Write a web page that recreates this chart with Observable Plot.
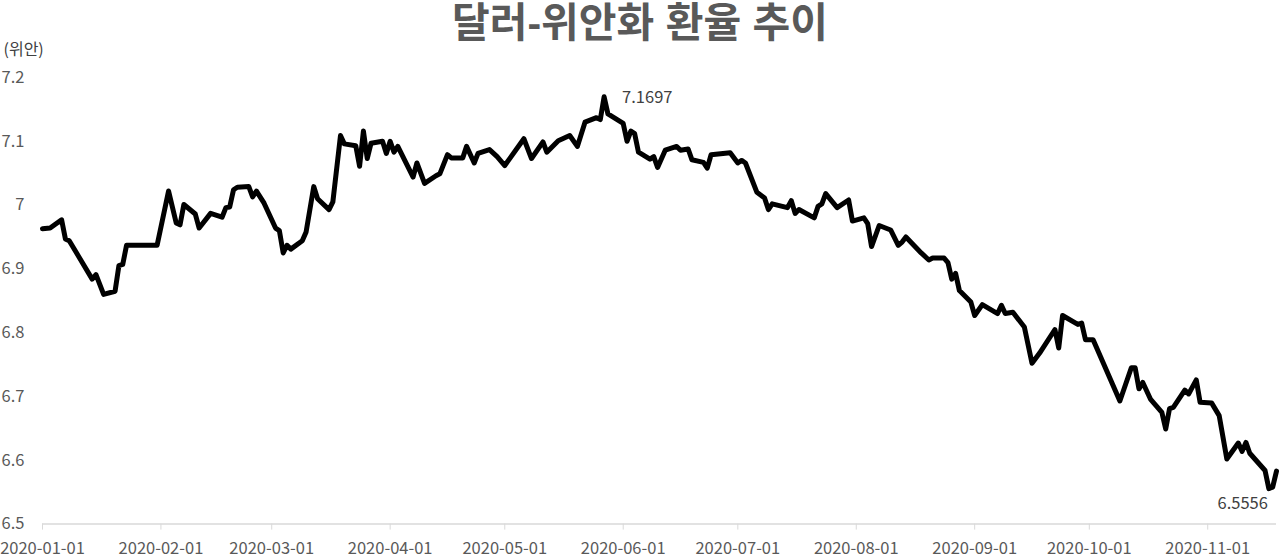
<!DOCTYPE html>
<html><head><meta charset="utf-8">
<script src="https://cdn.jsdelivr.net/npm/d3@7"></script>
<script src="https://cdn.jsdelivr.net/npm/@observablehq/plot@0.6"></script>
<style>
html,body{margin:0;padding:0;background:#fff;}
#title{position:relative;z-index:1;height:30px;line-height:47px;overflow:visible;text-align:center;font-family:"Liberation Sans","Noto Sans CJK KR",sans-serif;font-size:41px;font-weight:700;color:#595959;white-space:nowrap;}
#chart{position:relative;}
</style></head>
<body>
<div id="title">달러-위안화 환율 추이</div>
<div id="chart"></div>
<script>
const dates = ["2020-01-01","2020-01-03","2020-01-06","2020-01-07","2020-01-08","2020-01-10","2020-01-14","2020-01-15","2020-01-17","2020-01-20","2020-01-21","2020-01-22","2020-01-23","2020-01-31",
"2020-02-03","2020-02-05","2020-02-06","2020-02-07","2020-02-10","2020-02-11","2020-02-14","2020-02-17","2020-02-18","2020-02-19","2020-02-20","2020-02-21","2020-02-24","2020-02-25","2020-02-26","2020-02-28",
"2020-03-02","2020-03-03","2020-03-04","2020-03-05","2020-03-06","2020-03-09","2020-03-10","2020-03-12","2020-03-13","2020-03-16","2020-03-17","2020-03-19","2020-03-20","2020-03-23","2020-03-24","2020-03-25","2020-03-26","2020-03-27","2020-03-30","2020-03-31",
"2020-04-01","2020-04-02","2020-04-03","2020-04-07","2020-04-08","2020-04-10","2020-04-13","2020-04-14","2020-04-16","2020-04-17","2020-04-20","2020-04-21","2020-04-23","2020-04-24","2020-04-27","2020-04-29",
"2020-05-01","2020-05-06","2020-05-08","2020-05-11","2020-05-12","2020-05-15","2020-05-18","2020-05-20","2020-05-22","2020-05-25","2020-05-26","2020-05-27","2020-05-28",
"2020-06-01","2020-06-02","2020-06-03","2020-06-04","2020-06-05","2020-06-08","2020-06-09","2020-06-10","2020-06-12","2020-06-15","2020-06-16","2020-06-18","2020-06-19","2020-06-22","2020-06-23","2020-06-24","2020-06-29",
"2020-07-01","2020-07-02","2020-07-03","2020-07-06","2020-07-08","2020-07-09","2020-07-10","2020-07-14","2020-07-15","2020-07-16","2020-07-17","2020-07-21","2020-07-22","2020-07-23","2020-07-24","2020-07-27","2020-07-30","2020-07-31",
"2020-08-03","2020-08-04","2020-08-05","2020-08-07","2020-08-10","2020-08-12","2020-08-13","2020-08-14","2020-08-18","2020-08-20","2020-08-21","2020-08-24","2020-08-25","2020-08-26","2020-08-27","2020-08-28","2020-08-31",
"2020-09-01","2020-09-03","2020-09-07","2020-09-08","2020-09-09","2020-09-11","2020-09-14","2020-09-16","2020-09-18","2020-09-22","2020-09-23","2020-09-24","2020-09-28","2020-09-29","2020-09-30",
"2020-10-02","2020-10-09","2020-10-12","2020-10-13","2020-10-14","2020-10-15","2020-10-17","2020-10-20","2020-10-21","2020-10-22","2020-10-23","2020-10-26","2020-10-27","2020-10-29","2020-10-30",
"2020-11-02","2020-11-04","2020-11-06","2020-11-09","2020-11-10","2020-11-11","2020-11-12","2020-11-16","2020-11-17","2020-11-18","2020-11-19"];
const rates = [6.963,6.964,6.977,6.947,6.944,6.924,6.884,6.891,6.860,6.865,6.905,6.907,6.937,6.937,
7.022,6.972,6.969,7.001,6.986,6.964,6.987,6.981,6.996,6.997,7.024,7.028,7.029,7.013,7.022,7.003,
6.964,6.960,6.925,6.937,6.931,6.944,6.958,7.029,7.010,6.993,7.005,7.109,7.096,7.093,7.061,7.116,7.073,7.097,7.100,7.081,
7.100,7.083,7.092,7.044,7.066,7.034,7.046,7.049,7.079,7.074,7.074,7.092,7.066,7.081,7.087,7.076,
7.062,7.104,7.073,7.099,7.083,7.101,7.109,7.092,7.130,7.137,7.134,7.1697,7.143,
7.128,7.100,7.116,7.112,7.083,7.072,7.076,7.059,7.086,7.092,7.086,7.088,7.071,7.067,7.058,7.079,7.082,
7.066,7.070,7.066,7.020,7.011,6.993,7.002,6.996,7.007,6.987,6.993,6.980,6.998,7.002,7.018,6.996,7.008,6.975,
6.980,6.971,6.935,6.968,6.961,6.937,6.942,6.950,6.925,6.914,6.917,6.917,6.910,6.884,6.893,6.866,6.848,
6.827,6.844,6.830,6.843,6.830,6.832,6.809,6.752,6.768,6.805,6.776,6.827,6.813,6.815,6.789,
6.789,6.693,6.745,6.745,6.712,6.722,6.696,6.675,6.649,6.681,6.683,6.710,6.704,6.726,6.691,
6.690,6.670,6.602,6.627,6.614,6.628,6.611,6.584,6.5556,6.558,6.583];
const yTicks = [6.5,6.6,6.7,6.8,6.9,7.0,7.1,7.2];
const yTickLabels = ["6.5","6.6","6.7","6.8","6.9","7","7.1","7.2"];
const xTicks = ["2020-01-01","2020-02-01","2020-03-01","2020-04-01","2020-05-01","2020-06-01","2020-07-01","2020-08-01","2020-09-01","2020-10-01","2020-11-01"];
const yLabel = "(위안)";
const annotations = [{date:"2020-05-27", value:7.1697, label:"7.1697"},{date:"2020-11-17", value:6.5556, label:"6.5556"}];

const parse = d3.utcParse("%Y-%m-%d");
const data = dates.map((d,i)=>({date:parse(d), rate:rates[i]}));
const ann = annotations.map(a=>({...a, date:parse(a.date)}));
const font = "'Noto Sans CJK KR','Noto Sans',sans-serif";
const yFmt = d => yTickLabels[yTicks.findIndex(t=>Math.abs(t-d)<1e-9)];

const chart = Plot.plot({
  width: 1280,
  height: 530,
  marginLeft: 42,
  marginRight: 4,
  marginTop: 47,
  marginBottom: 36.4,
  style: {fontFamily: font, fontSize: "16.5px", color: "#595959", background: "transparent"},
  x: {type: "utc", domain: [parse("2020-01-01"), parse("2020-11-19")], label: null},
  y: {domain: [6.5, 7.2], label: null},
  marks: [
    Plot.axisY({ticks: yTicks, tickFormat: yFmt, tickSize: 0, tickPadding: 18, label: null, fill: "#595959", fontSize: 16.5}),
    Plot.axisX({ticks: xTicks.map(parse), tickFormat: d3.utcFormat("%Y-%m-%d"), tickSize: 6, tickPadding: 12, stroke: "#d9d9d9", fill: "#595959", label: null, fontSize: 16.5}),
    Plot.ruleY([6.5], {stroke: "#d9d9d9", strokeWidth: 1.5}),
    Plot.line(data, {x: "date", y: "rate", stroke: "#000", strokeWidth: 5, strokeLinejoin: "round"}),
    Plot.text(ann.slice(0,1), {x: "date", y: "value", text: "label", dx: 18, dy: 1, textAnchor: "start", fill: "#404040", fontSize: 16.5}),
    Plot.text(ann.slice(1), {x: "date", y: "value", text: "label", dx: -1, dy: 15, textAnchor: "end", fill: "#404040", fontSize: 16.5}),
    Plot.text([yLabel], {frameAnchor: "top-left", dx: -39, dy: -34, textAnchor: "start", fill: "#404040", fontSize: 16})
  ]
});
document.getElementById("chart").appendChild(chart);
</script>
</body></html>
